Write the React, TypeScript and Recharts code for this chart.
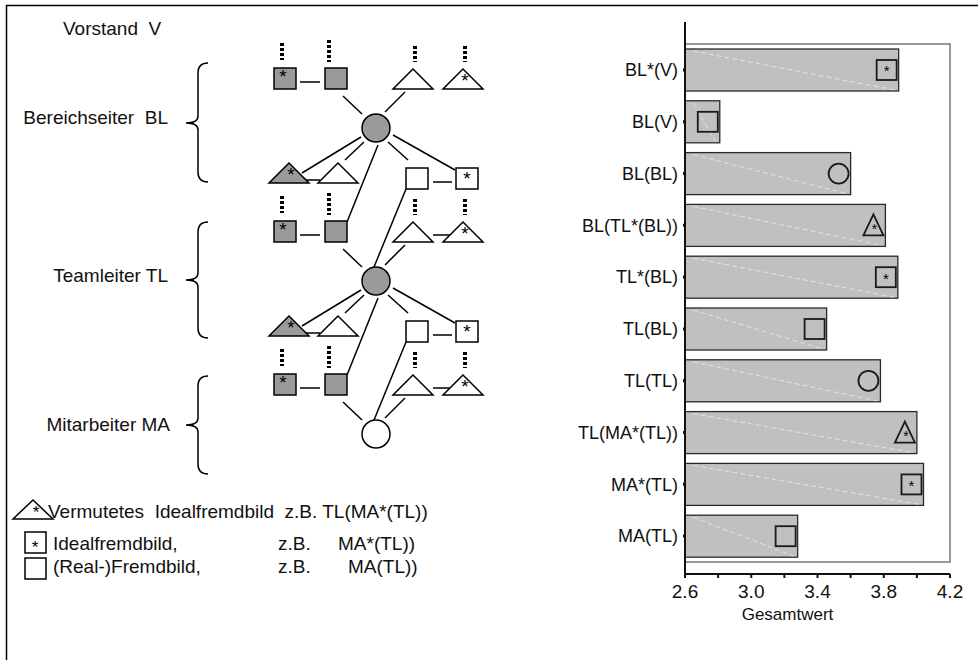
import React from "react";
import { BarChart, Bar, XAxis, YAxis, ReferenceArea } from "recharts";

const FONT = "'Liberation Sans', Arial, sans-serif";
const GRAY = "#9a9a9a";

const categories = [
  "BL*(V)", "BL(V)", "BL(BL)", "BL(TL*(BL))", "TL*(BL)",
  "TL(BL)", "TL(TL)", "TL(MA*(TL))", "MA*(TL)", "MA(TL)",
];
const values = [3.89, 2.81, 3.6, 3.81, 3.885, 3.455, 3.78, 4.0, 4.04, 3.28];
const markers = [
  "sqStar", "sq", "circle", "triStar", "sqStar",
  "sq", "circle", "triStar", "sqStar", "sq",
];
const xTicks = [2.6, 2.8, 3.0, 3.2, 3.4, 3.6, 3.8, 4.0, 4.2];
const xTickLabels = ["2.6", "", "3.0", "", "3.4", "", "3.8", "", "4.2"];

const data = categories.map((name, i) => ({ name, value: values[i], marker: markers[i] }));

function Star({ x, y, size = 14 }: { x: number; y: number; size?: number }) {
  return (
    <text x={x} y={y + size * 0.42} fontSize={size} textAnchor="middle" fontFamily={FONT} fill="#000">
      *
    </text>
  );
}

function BarShape(props: any) {
  const { x, y, width, height, payload } = props;
  const cx = x + width - 12;
  const cy = y + height / 2;
  const m = payload.marker;
  return (
    <g>
      <rect x={x} y={y} width={width} height={height} fill="#c0c0c0" stroke="#2a2a2a" strokeWidth={1.3} />
      <line x1={x + 8} y1={y + 2} x2={x + width - 4} y2={y + height - 1} stroke="#ececec" strokeWidth={0.8} strokeDasharray="5 3" />
      {(m === "sq" || m === "sqStar") && (
        <rect x={cx - 10} y={cy - 10} width={20} height={20} fill="none" stroke="#1a1a1a" strokeWidth={1.8} />
      )}
      {m === "sqStar" && <Star x={cx} y={cy} size={15} />}
      {m === "circle" && <circle cx={cx} cy={cy} r={10} fill="none" stroke="#1a1a1a" strokeWidth={1.8} />}
      {m === "triStar" && (
        <>
          <polygon
            points={`${cx},${cy - 11} ${cx - 10},${cy + 10} ${cx + 10},${cy + 10}`}
            fill="none"
            stroke="#1a1a1a"
            strokeWidth={1.8}
          />
          <Star x={cx + 1} y={cy + 3} size={14} />
        </>
      )}
    </g>
  );
}

function Dots({ x, y1, y2 }: { x: number; y1: number; y2: number }) {
  return <line x1={x} x2={x} y1={y1} y2={y2} stroke="#000" strokeWidth={4} strokeDasharray="3 2" />;
}

function Tri({ cx, base, fill, star }: { cx: number; base: number; fill: string; star?: boolean }) {
  return (
    <g>
      <polygon
        points={`${cx},${base - 20} ${cx - 20},${base} ${cx + 20},${base}`}
        fill={fill}
        stroke="#000"
        strokeWidth={1.5}
      />
      {star && <Star x={cx + 2} y={base - 10} size={19} />}
    </g>
  );
}

function Sq({ x, y, fill, star }: { x: number; y: number; fill: string; star?: "tl" | "c" }) {
  return (
    <g>
      <rect x={x} y={y} width={22} height={21} fill={fill} stroke="#000" strokeWidth={1.5} />
      {star === "tl" && <Star x={x + 9} y={y + 7} size={19} />}
      {star === "c" && <Star x={x + 11} y={y + 9} size={19} />}
    </g>
  );
}

function Level({ dy, circleFill, bottom }: { dy: number; circleFill: string; bottom: boolean }) {
  const L = (x1: number, y1: number, x2: number, y2: number) => (
    <line x1={x1} y1={y1 + dy} x2={x2} y2={y2 + dy} stroke="#000" strokeWidth={1.5} />
  );
  return (
    <g>
      <Dots x={282} y1={43 + dy} y2={60 + dy} />
      <Dots x={329} y1={40 + dy} y2={62 + dy} />
      <Dots x={415} y1={46 + dy} y2={62 + dy} />
      <Dots x={465} y1={46 + dy} y2={62 + dy} />
      <Sq x={274} y={68 + dy} fill={GRAY} star="tl" />
      {L(300, 82, 320, 82)}
      <Sq x={325} y={68 + dy} fill={GRAY} />
      {dy > 0 && L(433, 82, 452, 82)}
      <Tri cx={413} base={89 + dy} fill="#fff" />
      <Tri cx={463} base={89 + dy} fill="#fff" star />
      {L(343, 96, 362, 114)}
      {L(405, 92, 385, 112)}
      <circle cx={376} cy={128 + dy} r={14} fill={circleFill} stroke="#000" strokeWidth={1.5} />
      {bottom && (
        <g>
          {L(361, 137, 302, 173)}
          {L(364, 142, 345, 160)}
          {L(388, 142, 408, 160)}
          {L(393, 135, 455, 170)}
          {L(378, 145, 347, 222)}
          {L(300, 180, 320, 180)}
          <Tri cx={289} base={183 + dy} fill={GRAY} star />
          <Tri cx={338} base={183 + dy} fill="#fff" />
          <Sq x={406} y={168 + dy} fill="#fff" />
          {L(433, 182, 452, 182)}
          <Sq x={456} y={168 + dy} fill="#fff" star="c" />
          {L(406, 189, 374, 267)}
        </g>
      )}
    </g>
  );
}

function Brace({ y1, y2, mid }: { y1: number; y2: number; mid: number }) {
  const d = `M208,${y1} Q198,${y1} 198,${y1 + 10} L198,${mid - 7} Q198,${mid} 186,${mid} Q198,${mid} 198,${mid + 7} L198,${y2 - 10} Q198,${y2} 208,${y2}`;
  return <path d={d} fill="none" stroke="#000" strokeWidth={1.5} />;
}

function Diagram() {
  const t = { fontFamily: FONT, fontSize: 19, fill: "#111" } as const;
  return (
    <svg width={978} height={660} style={{ position: "absolute", left: 0, top: 0 }}>
      <line x1={6} y1={5.5} x2={978} y2={5.5} stroke="#000" strokeWidth={1.5} />
      <line x1={6.5} y1={5} x2={6.5} y2={660} stroke="#000" strokeWidth={1.5} />
      <text x={63} y={35} {...t} style={{ whiteSpace: "pre" }}>Vorstand  V</text>
      <text x={168} y={124} {...t} textAnchor="end" style={{ whiteSpace: "pre" }}>Bereichseiter  BL</text>
      <text x={168} y={282} {...t} textAnchor="end">Teamleiter TL</text>
      <text x={170} y={431} {...t} textAnchor="end">Mitarbeiter MA</text>
      <Brace y1={63} y2={182} mid={123} />
      <Brace y1={222} y2={338} mid={280} />
      <Brace y1={376} y2={474} mid={425} />
      <Level dy={0} circleFill={GRAY} bottom />
      <Level dy={153} circleFill={GRAY} bottom />
      <Level dy={306} circleFill="#fff" bottom={false} />

      <polygon points="33,500 13,519 53,519" fill="#fff" stroke="#000" strokeWidth={1.5} />
      <Star x={36} y={511} size={17} />
      <text x={48} y={518} {...t} style={{ whiteSpace: "pre" }}>Vermutetes  Idealfremdbild  z.B. TL(MA*(TL))</text>

      <rect x={25} y={532} width={21} height={21} fill="#fff" stroke="#000" strokeWidth={1.5} />
      <Star x={35} y={546} size={17} />
      <text x={53} y={550} {...t}>Idealfremdbild,</text>
      <text x={278} y={550} {...t}>z.B.</text>
      <text x={338} y={550} {...t}>MA*(TL))</text>

      <rect x={25} y={558} width={21} height={21} fill="#fff" stroke="#000" strokeWidth={1.5} />
      <text x={53} y={573} {...t}>(Real-)Fremdbild,</text>
      <text x={278} y={573} {...t}>z.B.</text>
      <text x={348} y={573} {...t}>MA(TL))</text>
    </svg>
  );
}

export default function App() {
  return (
    <div style={{ position: "absolute", left: 0, top: 0, width: 978, height: 660, background: "#fff", fontFamily: FONT }}>
      <Diagram />
      <div style={{ position: "absolute", left: 0, top: 0 }}>
        <BarChart
          width={978}
          height={660}
          data={data}
          layout="vertical"
          margin={{ top: 22, right: 28, bottom: 36, left: 0 }}
        >
          <ReferenceArea x1={2.6} x2={4.2} fill="none" fillOpacity={0} stroke="#777" strokeWidth={1.5} strokeOpacity={1} />
          <XAxis
            type="number"
            dataKey="value"
            domain={[2.6, 4.2]}
            ticks={xTicks}
            interval={0}
            allowDataOverflow
            tickFormatter={(v: number) => xTickLabels[xTicks.findIndex((t) => Math.abs(t - v) < 1e-6)] ?? ""}
            tick={{ fontSize: 19, fill: "#111", fontFamily: FONT }}
            tickSize={4}
            tickMargin={7}
            height={50}
            axisLine={{ stroke: "#111", strokeWidth: 2 }}
            tickLine={{ stroke: "#111", strokeWidth: 2 }}
            label={{ value: "Gesamtwert", position: "insideBottom", offset: 4, dx: -30, fontSize: 17, fill: "#111", fontFamily: FONT }}
          />
          <YAxis
            type="category"
            dataKey="name"
            width={685}
            padding={{ top: 22, bottom: 12 }}
            tick={{ fontSize: 18, fill: "#111", fontFamily: FONT }}
            tickSize={2}
            tickMargin={5}
            axisLine={{ stroke: "#111", strokeWidth: 2 }}
            tickLine={{ stroke: "#111", strokeWidth: 3 }}
          />
          <Bar dataKey="value" barSize={42} isAnimationActive={false} shape={(p: any) => <BarShape {...p} />} />
        </BarChart>
      </div>
    </div>
  );
}
